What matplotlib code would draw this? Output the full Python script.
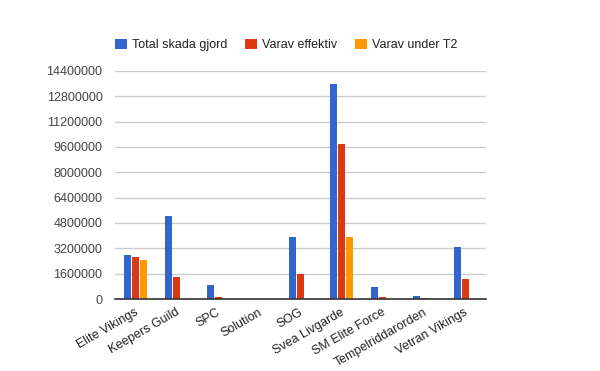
import matplotlib
matplotlib.use("Agg")
import matplotlib.pyplot as plt
import numpy as np
from matplotlib.patches import Patch

categories = ["Elite Vikings", "Keepers Guild", "SPC", "Solution", "SOG",
              "Svea Livgarde", "SM Elite Force", "Tempelriddarorden", "Vetran Vikings"]
total = [2800000, 5260000, 900000, 0, 3940000, 13600000, 780000, 210000, 3300000]
effektiv = [2670000, 1410000, 150000, 0, 1600000, 9810000, 150000, 60000, 1280000]
under_t2 = [2480000, 0, 0, 0, 0, 3940000, 0, 0, 0]
series_names = ["Total skada gjord", "Varav effektiv", "Varav under T2"]
colors = ["#3366CC", "#DC3912", "#FF9900"]
yticks = [0, 1600000, 3200000, 4800000, 6400000, 8000000, 9600000, 11200000, 12800000, 14400000]

plt.rcParams['font.family'] = ['Liberation Sans', 'DejaVu Sans']

fig = plt.figure(figsize=(6, 3.71), dpi=100)
ax = fig.add_axes([115/600, 1-299/371, (486-115)/600, (299-71)/371])

x = np.arange(len(categories))
bw = 7/41.2
gap = 1/41.2
offsets = [-(bw+gap), 0, (bw+gap)]
for vals, off, c in zip([total, effektiv, under_t2], offsets, colors):
    ax.bar(x + off, vals, width=bw, color=c, zorder=3, linewidth=0)

ax.set_xlim(-0.5, len(categories)-0.5)
ax.set_ylim(0, 14400000)
ax.set_yticks(yticks)
ax.set_yticklabels([str(v) for v in yticks], fontsize=9, color="#444444")
ax.yaxis.grid(True, color="#cccccc", linewidth=1, zorder=0)
ax.set_axisbelow(True)
for s in ["top", "right", "left"]:
    ax.spines[s].set_visible(False)
ax.spines["bottom"].set_color("#333333")
ax.spines["bottom"].set_linewidth(1.2)
ax.spines["bottom"].set_zorder(4)
ax.tick_params(axis="both", length=0)
ax.tick_params(axis="y", pad=9)
ax.set_xticks(x + 0.04)
ax.set_xticklabels(categories, rotation=30, ha="right", va="center",
                   rotation_mode="anchor", fontsize=9, color="#222222")
ax.tick_params(axis="x", pad=9)

handles = [Patch(facecolor=c, edgecolor="none") for c in colors]
fig.legend(handles, series_names, loc="center left", bbox_to_anchor=(104/600, 1-45/371),
           ncol=3, frameon=False, fontsize=9, handlelength=0.96, handleheight=0.9,
           handletextpad=0.4, columnspacing=1.4, labelcolor="#222222")

fig.savefig("out.png", dpi=100, facecolor="white")
